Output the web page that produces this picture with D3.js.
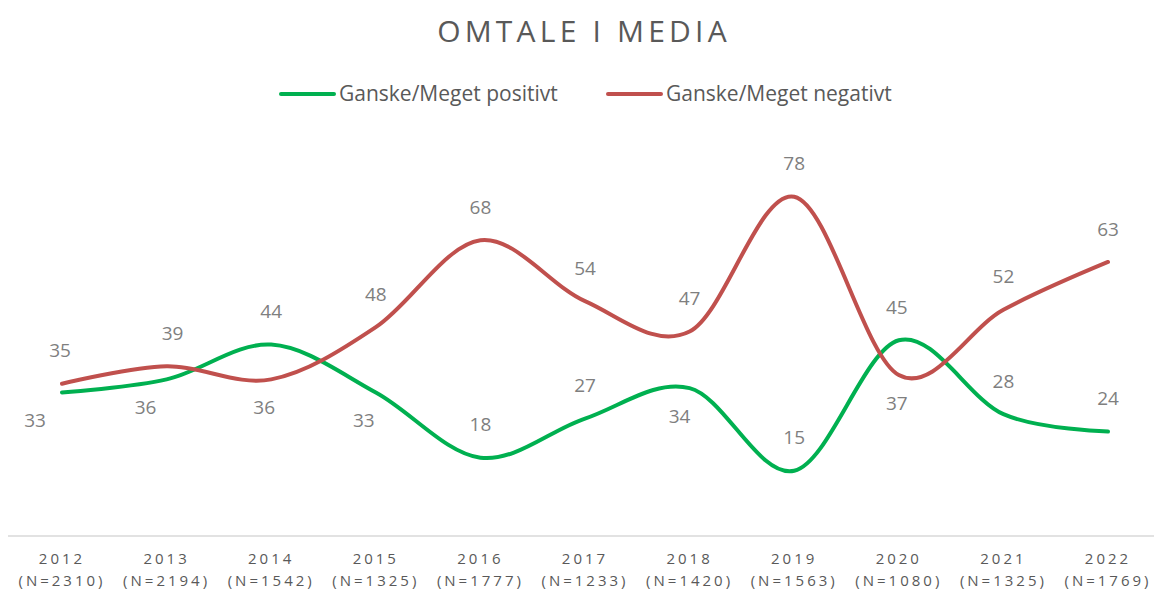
<!DOCTYPE html>
<html>
<head>
<meta charset="utf-8">
<script src="https://cdn.jsdelivr.net/npm/d3@7"></script>
<style>
  body { margin: 0; background: #fff; }
  text { font-family: "Open Sans", "Noto Sans", sans-serif; }
</style>
</head>
<body>
<script>
var width = 1154,
    height = 589;

// chart data
var years = ["2012","2013","2014","2015","2016","2017","2018","2019","2020","2021","2022"];
var sampleSizes = ["N=2310","N=2194","N=1542","N=1325","N=1777","N=1233","N=1420","N=1563","N=1080","N=1325","N=1769"];
var positive = [33, 36, 44, 33, 18, 27, 34, 15, 45, 28, 24];
var negative = [35, 39, 36, 48, 68, 54, 47, 78, 37, 52, 63];
// where each data label sits relative to its point, and small sideways nudges
var positiveLabelSide = ["below","below","above","below","above","above","below","above","above","above","above"];
var negativeLabelSide = ["above","above","below","above","above","above","above","above","below","above","above"];
var positiveLabelNudge = [-27, -21, 0, -12, 0, 0, -10, 0, -2, 0, 0];
var negativeLabelNudge = [-2, 6, -7, 0, 0, 0, 0, 0, -2, 0, 0];

var series = [
  { name: "Ganske/Meget positivt", values: positive, sides: positiveLabelSide, nudge: positiveLabelNudge, color: "#00B050" },
  { name: "Ganske/Meget negativt", values: negative, sides: negativeLabelSide, nudge: negativeLabelNudge, color: "#C0504D" }
];

var svg = d3.select("body").append("svg")
    .attr("width", width)
    .attr("height", height);

var x = d3.scalePoint()
    .domain(years)
    .range([62, 1108]);

var y = d3.scaleLinear()
    .domain([0, 100])
    .range([536, 101]);

// title
svg.append("text")
    .attr("x", 584)
    .attr("y", 42)
    .attr("text-anchor", "middle")
    .style("font-size", "30px")
    .style("letter-spacing", "4.2px")
    .style("fill", "#595959")
    .text("OMTALE I MEDIA");

// legend
var legend = svg.append("g").attr("class", "legend");
var legendX = [281, 608];
series.forEach(function(s, i) {
  var g = legend.append("g").attr("transform", "translate(" + legendX[i] + ",94)");
  g.append("line")
      .attr("x1", 0).attr("x2", 53)
      .attr("stroke", s.color)
      .attr("stroke-width", 4)
      .attr("stroke-linecap", "round");
  g.append("text")
      .attr("x", 58)
      .attr("dy", "0.35em")
      .style("font-size", "21px")
      .style("fill", "#595959")
      .text(s.name);
});

// x axis
var axis = svg.append("g")
    .attr("transform", "translate(0,536)")
    .call(d3.axisBottom(x).tickSize(0).tickFormat(""));
axis.select(".domain")
    .attr("d", "M8,0H1154")
    .attr("stroke", "#d9d9d9")
    .attr("stroke-width", 1.5);

var ticks = svg.append("g").selectAll("g.tick-label")
    .data(years)
    .enter().append("g")
      .attr("class", "tick-label")
      .attr("transform", function(d) { return "translate(" + x(d) + ",0)"; });

ticks.append("text")
    .attr("y", 564)
    .attr("text-anchor", "middle")
    .style("font-size", "15px")
    .style("letter-spacing", "3px")
    .style("fill", "#595959")
    .text(function(d) { return d; });

ticks.append("text")
    .attr("y", 586)
    .attr("text-anchor", "middle")
    .style("font-size", "15px")
    .style("letter-spacing", "3px")
    .style("fill", "#595959")
    .text(function(d, i) { return "(" + sampleSizes[i] + ")"; });

// smooth lines
var line = d3.line()
    .x(function(d, i) { return x(years[i]); })
    .y(function(d) { return y(d); })
    .curve(d3.curveCardinal.tension(0));

svg.selectAll("path.series")
    .data(series)
    .enter().append("path")
      .attr("class", "series")
      .attr("d", function(s) { return line(s.values); })
      .attr("fill", "none")
      .attr("stroke", function(s) { return s.color; })
      .attr("stroke-width", 4)
      .attr("stroke-linecap", "round");

// data labels
series.forEach(function(s) {
  svg.append("g").selectAll("text")
      .data(s.values)
      .enter().append("text")
        .attr("x", function(d, i) { return x(years[i]) + s.nudge[i]; })
        .attr("y", function(d, i) { return y(d) + (s.sides[i] === "above" ? -33 : 28); })
        .attr("dy", "0.35em")
        .attr("text-anchor", "middle")
        .style("font-size", "19px")
        .style("fill", "#7f7f7f")
        .text(function(d) { return d; });
});
</script>
</body>
</html>
